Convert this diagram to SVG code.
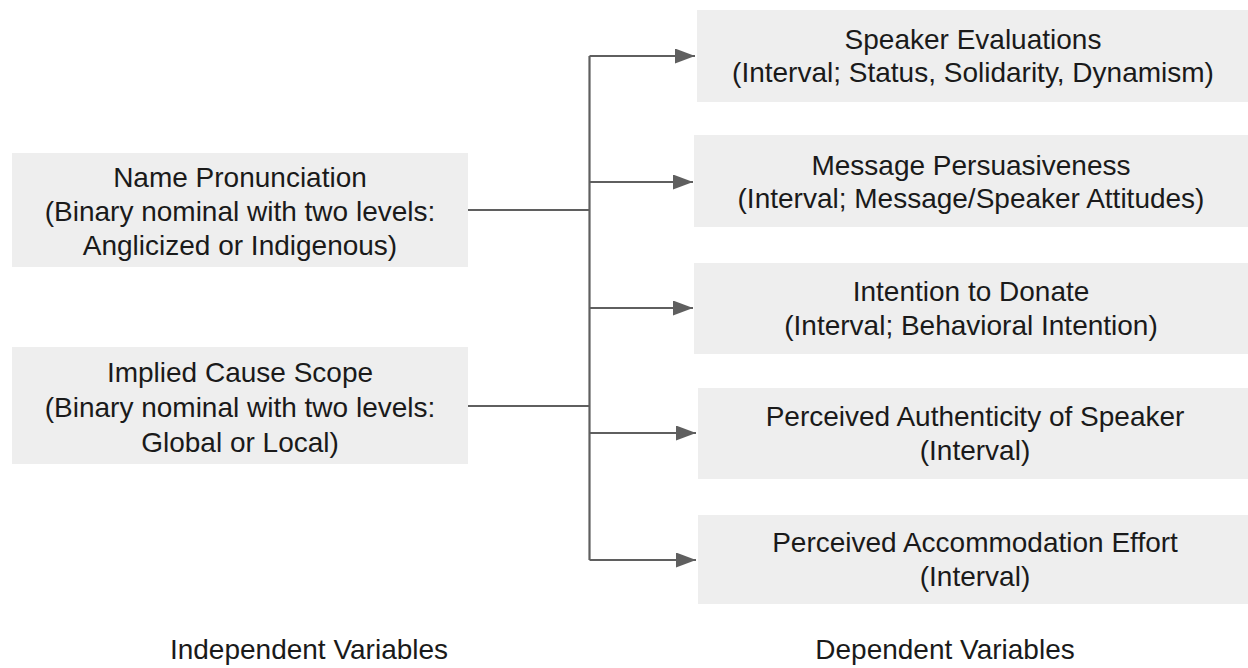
<svg xmlns="http://www.w3.org/2000/svg" width="1248" height="668" viewBox="0 0 1248 668">
<style>
.box{fill:#eeeeee;}
.t{font-family:"Liberation Sans",Arial,sans-serif;font-size:28px;fill:#1a1a1a;text-anchor:middle;}
.c{stroke:#5f5f5f;stroke-width:2.2;fill:none;}
</style>
<defs>
<marker id="ah" markerWidth="10" markerHeight="8" refX="10" refY="4" orient="auto" markerUnits="userSpaceOnUse" viewBox="0 0 10 8">
<path d="M0,0 L10,4 L0,8 Z" fill="#5f5f5f"/>
</marker>
<marker id="arrow" markerWidth="20" markerHeight="15" refX="20" refY="7.5" orient="auto" markerUnits="userSpaceOnUse" viewBox="0 0 20 15">
<path d="M0,0 L20,7.5 L0,15 Z" fill="#5f5f5f"/>
</marker>
</defs>
<rect width="1248" height="668" fill="#ffffff"/>
<g id="connectors">
<path class="c" d="M468,210 H589.5"/>
<path class="c" d="M468,406 H589.5"/>
<path class="c" d="M589.5,56 V560"/>
<path class="c" d="M589.5,56 H695" marker-end="url(#arrow)"/>
<path class="c" d="M589.5,182 H693" marker-end="url(#arrow)"/>
<path class="c" d="M589.5,308 H693" marker-end="url(#arrow)"/>
<path class="c" d="M589.5,433 H696" marker-end="url(#arrow)"/>
<path class="c" d="M589.5,560 H696" marker-end="url(#arrow)"/>
</g>
<g id="iv1">
<rect class="box" x="12" y="153" width="456" height="114"/>
<text class="t" x="240" y="187">Name Pronunciation</text>
<text class="t" x="240" y="221">(Binary nominal with two levels:</text>
<text class="t" x="240" y="255">Anglicized or Indigenous)</text>
</g>
<g id="iv2">
<rect class="box" x="12" y="347" width="456" height="117"/>
<text class="t" x="240" y="382">Implied Cause Scope</text>
<text class="t" x="240" y="417">(Binary nominal with two levels:</text>
<text class="t" x="240" y="452">Global or Local)</text>
</g>
<g id="dv1">
<rect class="box" x="697" y="10" width="551" height="92"/>
<text class="t" x="973" y="48.5">Speaker Evaluations</text>
<text class="t" x="973" y="82">(Interval; Status, Solidarity, Dynamism)</text>
</g>
<g id="dv2">
<rect class="box" x="694" y="135" width="554" height="92"/>
<text class="t" x="971" y="174.5">Message Persuasiveness</text>
<text class="t" x="971" y="208">(Interval; Message/Speaker Attitudes)</text>
</g>
<g id="dv3">
<rect class="box" x="694" y="263" width="554" height="91"/>
<text class="t" x="971" y="301">Intention to Donate</text>
<text class="t" x="971" y="334.5">(Interval; Behavioral Intention)</text>
</g>
<g id="dv4">
<rect class="box" x="698" y="388" width="550" height="91"/>
<text class="t" x="975" y="426">Perceived Authenticity of Speaker</text>
<text class="t" x="975" y="459.5">(Interval)</text>
</g>
<g id="dv5">
<rect class="box" x="698" y="515" width="550" height="89"/>
<text class="t" x="975" y="552">Perceived Accommodation Effort</text>
<text class="t" x="975" y="585.5">(Interval)</text>
</g>
<g id="labels">
<text class="t" x="309" y="659">Independent Variables</text>
<text class="t" x="945" y="659">Dependent Variables</text>
</g>
</svg>
